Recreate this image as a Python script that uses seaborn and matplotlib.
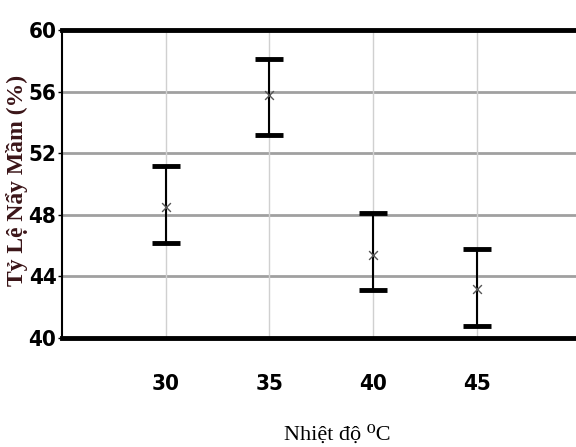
import matplotlib
matplotlib.use("Agg")
import matplotlib.pyplot as plt
import seaborn as sns
import pandas as pd

temps = [30, 35, 40, 45]
means = [48.5, 55.8, 45.4, 43.2]
lower = [46.2, 53.2, 43.1, 40.8]
upper = [51.2, 58.1, 48.1, 45.75]
yticks = [40, 44, 48, 52, 56, 60]

df = pd.DataFrame({"temp": temps, "mean": means, "lo": lower, "hi": upper})

sns.set_style("white")
fig = plt.figure(figsize=(5.76, 4.47), dpi=100)
ax = fig.add_axes([0.1076, 0.2438, 0.8924, 0.6891])

ax.set_axisbelow(True)
for y in yticks[1:-1]:
    ax.axhline(y, color="#a0a0a0", lw=2.0, zorder=0)
for x in temps:
    ax.axvline(x, color="#d0d0d0", lw=1.0, zorder=0)

ax.errorbar(df["temp"], df["mean"],
            yerr=[df["mean"] - df["lo"], df["hi"] - df["mean"]],
            fmt="none", ecolor="black", elinewidth=1.5, capsize=10, capthick=3.5, zorder=2)
sns.scatterplot(data=df, x="temp", y="mean", marker="x", color="#555555", s=40,
                linewidth=1.0, ax=ax, zorder=3, legend=False)

ax.set_xlim(25, 49.8)
ax.set_ylim(40, 60)
ax.set_yticks(yticks)
ax.set_xticks(temps)

tickfont = dict(family="DejaVu Sans", stretch="condensed", weight="bold", size=16, color="black")
ax.set_yticklabels([str(v) for v in yticks], fontdict=tickfont)
ax.set_xticklabels([str(v) for v in temps], fontdict=tickfont)
ax.tick_params(axis="y", length=3, width=1, pad=1, color="black", left=True)
ax.tick_params(axis="x", length=0, pad=26)

for side in ["top", "bottom"]:
    ax.spines[side].set_linewidth(3.5)
    ax.spines[side].set_color("black")
ax.spines["left"].set_linewidth(1.5)
ax.spines["left"].set_color("black")
ax.spines["right"].set_visible(False)

ax.set_xlabel("Nhiệt độ ⁰C", family=["Liberation Serif", "DejaVu Serif"], size=16, color="black")
ax.xaxis.set_label_coords(0.535, -0.285)
ax.set_ylabel("Tỷ Lệ Nẩy Mầm (%)", family=["Liberation Serif", "DejaVu Serif"],
              weight="bold", size=17, color="#3b1518")
ax.yaxis.set_label_coords(-0.066, 0.513)

fig.savefig("out.png", dpi=100)
